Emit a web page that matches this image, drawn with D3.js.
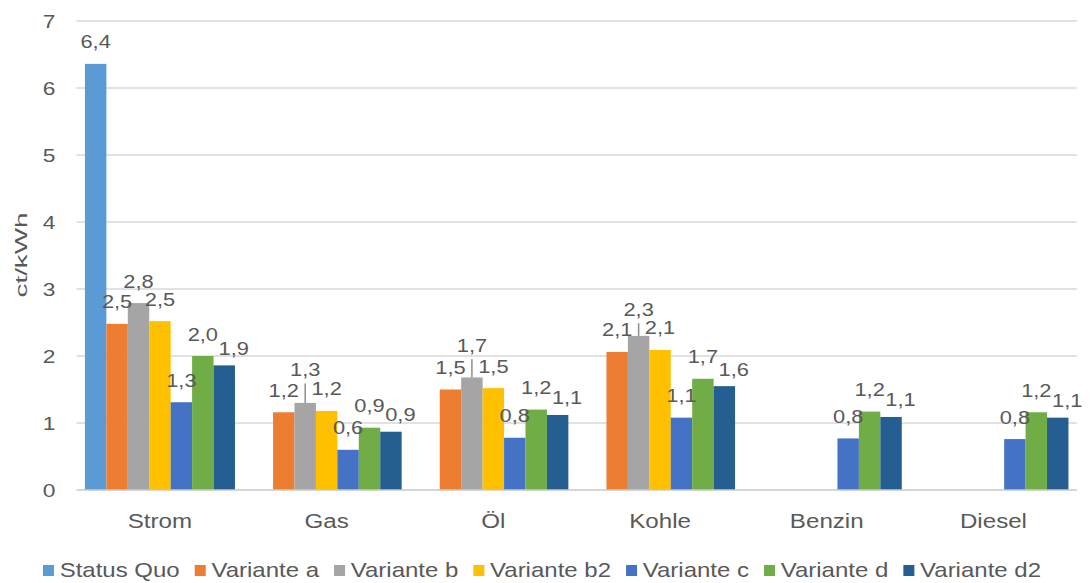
<!DOCTYPE html>
<html>
<head>
<meta charset="utf-8">
<script src="https://cdn.jsdelivr.net/npm/d3@7"></script>
<style>
  html, body { margin: 0; padding: 0; background: #ffffff; }
  svg { display: block; }
  text { font-family: "Liberation Sans", Arial, sans-serif; fill: #595959; }
</style>
</head>
<body>
<svg id="chart" width="1090" height="583"></svg>
<script>
// ---- data ----
const categories = ["Strom", "Gas", "Öl", "Kohle", "Benzin", "Diesel"];
const seriesNames = ["Status Quo", "Variante a", "Variante b", "Variante b2", "Variante c", "Variante d", "Variante d2"];
const seriesColors = ["#5B9BD5", "#ED7D31", "#A5A5A5", "#FFC000", "#4472C4", "#70AD47", "#255E91"];
const statusQuo = [6.36, null, null, null, null, null];
const varianteA = [2.48, 1.16, 1.50, 2.06, null, null];
const varianteB = [2.79, 1.30, 1.68, 2.30, null, null];
const varianteB2 = [2.52, 1.18, 1.52, 2.09, null, null];
const varianteC = [1.31, 0.60, 0.78, 1.08, 0.77, 0.76];
const varianteD = [2.00, 0.93, 1.20, 1.66, 1.17, 1.16];
const varianteD2 = [1.86, 0.87, 1.12, 1.55, 1.09, 1.08];
const varianteBErrPlus = [0, 0.29, 0.27, 0.19, null, null];
const yTicks = [0, 1, 2, 3, 4, 5, 6, 7];
const yTitle = "ct/kWh";

const seriesValues = [statusQuo, varianteA, varianteB, varianteB2, varianteC, varianteD, varianteD2];
const errorSeries = "Variante b";

// ---- layout ----
const svg = d3.select("#chart");
const plot = { left: 76.6, right: 1076.8, top: 21, bottom: 490 };

const x0 = d3.scaleBand().domain(categories).range([plot.left, plot.right])
  .paddingInner(0.1).paddingOuter(0.05);
const x1 = d3.scaleBand().domain(seriesNames).range([0, x0.bandwidth()]).padding(0);
const y = d3.scaleLinear().domain([0, 7]).range([plot.bottom, plot.top]);

// gridlines
svg.append("g").selectAll("line").data(yTicks.filter(t => t > 0)).join("line")
  .attr("x1", plot.left).attr("x2", plot.right)
  .attr("y1", d => y(d)).attr("y2", d => y(d))
  .attr("stroke", "#d9d9d9").attr("stroke-width", 1.4);

// y tick labels
svg.append("g").selectAll("text").data(yTicks).join("text")
  .attr("transform", d => `translate(55.5,${y(d) + 7.3}) scale(1.2,1)`)
  .attr("text-anchor", "end")
  .style("font-size", "19px")
  .text(d => d);

// y title
svg.append("text")
  .attr("transform", "translate(27,255) rotate(-90)")
  .attr("text-anchor", "middle")
  .attr("textLength", 85).attr("lengthAdjust", "spacingAndGlyphs")
  .style("font-size", "17px")
  .text(yTitle);

// bars
const barData = [];
seriesNames.forEach((s, si) => {
  categories.forEach((c, ci) => {
    const v = seriesValues[si][ci];
    if (v !== null && v !== undefined) {
      const e = s === errorSeries ? (varianteBErrPlus[ci] || 0) : 0;
      barData.push({ s, si, c, ci, v, e });
    }
  });
});

svg.append("g").selectAll("rect").data(barData).join("rect")
  .attr("x", d => x0(d.c) + x1(d.s))
  .attr("width", x1.bandwidth())
  .attr("y", d => y(d.v))
  .attr("height", d => y(0) - y(d.v))
  .attr("fill", d => seriesColors[d.si]);

// error bars (plus direction, no cap)
svg.append("g").selectAll("line").data(barData.filter(d => d.e > 0)).join("line")
  .attr("x1", d => x0(d.c) + x1(d.s) + x1.bandwidth() / 2)
  .attr("x2", d => x0(d.c) + x1(d.s) + x1.bandwidth() / 2)
  .attr("y1", d => y(d.v)).attr("y2", d => y(d.v + d.e))
  .attr("stroke", "#8c8c8c").attr("stroke-width", 1.5);

// x axis line
svg.append("line")
  .attr("x1", plot.left).attr("x2", plot.right)
  .attr("y1", y(0)).attr("y2", y(0))
  .attr("stroke", "#c8c8c8").attr("stroke-width", 1.5);

// category labels
svg.append("g").selectAll("text").data(categories).join("text")
  .attr("transform", d => `translate(${x0(d) + x0.bandwidth() / 2},528) scale(1.15,1)`)
  .attr("text-anchor", "middle")
  .style("font-size", "21px")
  .text(d => d);

// data labels: above bar (or above error bar), nudged right/down when colliding with left neighbour
const fmt = v => (Math.round(v * 10 + 1e-9) / 10).toFixed(1).replace(".", ",");
const lblSx = 1.15, lblSize = 19;
const measure = svg.append("text").style("font-size", lblSize + "px");
const labelData = [];
categories.forEach((c, ci) => {
  let prev = null;
  barData.filter(d => d.ci === ci).sort((a, b) => a.si - b.si).forEach(d => {
    const text = fmt(d.v);
    measure.text(text);
    const w = measure.node().getComputedTextLength() * lblSx * 0.95;
    let cx = x0(d.c) + x1(d.s) + x1.bandwidth() / 2;
    let base = y(d.v) - 15.5;
    if (d.e > 0) base = Math.min(base, y(d.v + d.e) - 7);
    if (prev && Math.abs(prev.base - base) < 14 && (cx - w / 2) < (prev.cx + prev.w / 2)) {
      cx = prev.cx + prev.w / 2 + 2 + w / 2;
      base += 5;
    }
    const rec = { cx, w, base, text };
    labelData.push(rec);
    prev = rec;
  });
});
measure.remove();

svg.append("g").selectAll("text").data(labelData).join("text")
  .attr("transform", d => `translate(${d.cx},${d.base}) scale(${lblSx},1)`)
  .attr("text-anchor", "middle")
  .style("font-size", lblSize + "px")
  .text(d => d.text);

// legend
const legSx = 1.2, legSize = 20;
const legend = svg.append("g");
const items = legend.selectAll("g").data(seriesNames).join("g");
items.append("rect").attr("width", 11).attr("height", 11).attr("y", 565)
  .attr("fill", (d, i) => seriesColors[i]);
items.append("text")
  .style("font-size", legSize + "px")
  .text(d => d);
const widths = [];
items.select("text").each(function () { widths.push(this.getComputedTextLength() * legSx); });
const sqGap = 16.7, itemGap = 15;
const total = d3.sum(widths) + seriesNames.length * sqGap + (seriesNames.length - 1) * itemGap;
let cursor = 542 - total / 2;
items.each(function (d, i) {
  const g = d3.select(this);
  g.select("rect").attr("x", cursor);
  g.select("text").attr("transform", `translate(${cursor + sqGap},577) scale(${legSx},1)`);
  cursor += sqGap + widths[i] + itemGap;
});
</script>
</body>
</html>
